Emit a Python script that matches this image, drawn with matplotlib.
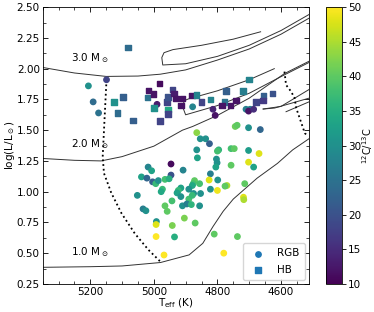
import numpy as np
import matplotlib
matplotlib.use("Agg")
import matplotlib.pyplot as plt
from matplotlib.ticker import MultipleLocator

# RGB stars: Teff, log L, 12C/13C
rgb_teff = [5206, 5191, 5174, 5149, 4990, 4878, 4814, 4807, 4710, 4697, 4702, 4686,
            4744, 4738, 4702, 4665, 4865, 4854, 4837, 4825, 4865, 4757, 4747, 4702,
            4669, 4863, 4796, 4800, 4803, 4801, 4805, 4757, 4946, 4946, 4908, 5018,
            5007, 5039, 5022, 5004, 4994, 4986, 4965, 4952, 4822, 4826, 4799, 4800,
            4822, 4770, 4776, 4872, 4876, 4856, 4879, 4890, 4915, 4923, 4927, 4915,
            4875, 4853, 4890, 4879, 4973, 4977, 5052, 4943, 4965, 5034, 5025, 4992,
            4993, 4993, 4935, 4968, 4904, 4958, 4942, 4910, 4896, 4882, 4856, 4870,
            4810, 4780, 4702, 4686, 4714, 4718, 4717, 4737]
rgb_logl = [1.86, 1.73, 1.64, 1.91, 1.71, 1.69, 1.67, 1.62, 1.67, 1.67, 1.655, 1.67,
            1.53, 1.54, 1.52, 1.505, 1.48, 1.43, 1.43, 1.39, 1.34, 1.35, 1.35, 1.335,
            1.31, 1.275, 1.34, 1.33, 1.265, 1.235, 1.20, 1.215, 1.225, 1.135, 1.175, 1.20,
            1.17, 1.12, 1.11, 1.08, 1.065, 1.09, 1.10, 1.105, 1.145, 1.095, 1.095, 1.01,
            1.02, 1.05, 1.045, 1.09, 1.065, 1.065, 1.05, 1.02, 1.03, 1.01, 0.99, 0.96,
            0.985, 0.985, 0.94, 0.97, 1.02, 1.00, 0.97, 0.925, 0.885, 0.86, 0.845, 0.757,
            0.733, 0.635, 0.632, 0.485, 0.785, 0.84, 0.725, 0.885, 0.90, 0.895, 0.885, 0.745,
            0.655, 0.50, 1.24, 1.20, 1.065, 0.955, 0.935, 0.635]
rgb_ratio = [30, 24, 25, 18, 13, 28, 14, 12, 27, 27, 12, 15,
             41, 40, 30, 23, 43, 30, 30, 22, 30, 38, 40, 32,
             48, 33, 36, 38, 30, 30, 33, 40, 11, 20, 28, 28,
             33, 33, 23, 22, 37, 30, 38, 35, 27, 48, 30, 49,
             30, 45, 40, 40, 38, 38, 34, 30, 33, 37, 33, 30,
             30, 30, 38, 37, 37, 34, 30, 38, 40, 27, 30, 30,
             48, 50, 35, 50, 42, 40, 42, 30, 27, 36, 30, 40,
             40, 50, 48, 33, 40, 48, 45, 40]

# HB stars
hb_teff = [5081, 5125, 5097, 5114, 5066, 5020, 4999, 4983, 5017, 5001, 4955, 4959,
           4955, 4981, 4956, 4942, 4937, 4930, 4910, 4915, 4880, 4865, 4850, 4821,
           4778, 4773, 4785, 4758, 4742, 4720, 4700, 4678, 4654, 4656, 4626]
hb_logl = [2.17, 1.73, 1.77, 1.64, 1.58, 1.765, 1.68, 1.88, 1.825, 1.795, 1.67, 1.73,
           1.77, 1.575, 1.63, 1.83, 1.80, 1.755, 1.757, 1.70, 1.78, 1.787, 1.73, 1.75,
           1.73, 1.82, 1.70, 1.70, 1.74, 1.82, 1.91, 1.73, 1.78, 1.74, 1.80]
hb_ratio = [24, 30, 22, 24, 22, 25, 30, 11, 12, 12, 34, 18,
            20, 18, 18, 18, 13, 12, 12, 12, 12, 28, 18, 28,
            25, 22, 12, 12, 12, 27, 28, 18, 22, 17, 20]

# evolutionary tracks
m1_teff = [5350, 5200, 5100, 4979, 4889, 4846, 4814, 4782, 4750, 4675, 4611, 4563, 4512]
m1_logl = [0.385, 0.39, 0.396, 0.424, 0.486, 0.58, 0.716, 0.84, 0.94, 1.11, 1.23, 1.34, 1.43]
m1_hb = [([4656, 4600, 4512], [1.672, 1.693, 1.83]),
         ([4656, 4620, 4512], [1.672, 1.68, 1.76]),
         ([4584, 4512], [1.65, 1.73])]

m2_teff = [5350, 5250, 5166, 5100, 5000, 4910, 4878, 4800, 4700, 4589, 4512]
m2_logl = [1.27, 1.255, 1.25, 1.285, 1.37, 1.50, 1.53, 1.62, 1.76, 1.96, 2.06]
m2_loop_teff = [4621, 4700, 4800, 4890, 4905, 4908, 4900, 4800, 4700, 4589, 4512]
m2_loop_logl = [2.00, 1.91, 1.82, 1.755, 1.74, 1.68, 1.625, 1.70, 1.80, 1.95, 2.05]

m3_teff = [5350, 5250, 5150, 5050, 4980, 4900, 4800, 4700, 4600, 4512]
m3_logl = [2.01, 1.965, 1.937, 1.94, 1.955, 1.99, 2.07, 2.16, 2.28, 2.41]
m3_loop_teff = [4664, 4750, 4850, 4940, 4968, 4975, 4972, 4900, 4800, 4700, 4600, 4512]
m3_loop_logl = [2.30, 2.24, 2.19, 2.155, 2.13, 2.09, 2.03, 2.04, 2.10, 2.19, 2.31, 2.44]

dot1_teff = [5149, 5155, 5161, 5157, 5134, 5102, 5060, 5017, 4979]
dot1_logl = [1.91, 1.60, 1.285, 1.15, 0.99, 0.825, 0.66, 0.527, 0.43]
dot2_teff = [4589, 4584, 4568, 4557, 4552, 4541, 4525, 4515]
dot2_logl = [1.976, 1.868, 1.814, 1.76, 1.68, 1.597, 1.476, 1.45]

fig = plt.figure(figsize=(3.74, 3.12), dpi=100)
ax = fig.add_axes([0.114, 0.09, 0.712, 0.887])
cax = fig.add_axes([0.871, 0.09, 0.043, 0.887])

lc = '#333333'
ax.plot(m1_teff, m1_logl, color=lc, lw=0.7)
for t, l in m1_hb:
    ax.plot(t, l, color=lc, lw=0.7)
ax.plot(m2_teff, m2_logl, color=lc, lw=0.7)
ax.plot(m2_loop_teff, m2_loop_logl, color=lc, lw=0.7)
ax.plot(m3_teff, m3_logl, color=lc, lw=0.7)
ax.plot(m3_loop_teff, m3_loop_logl, color=lc, lw=0.7)
ax.plot(dot1_teff, dot1_logl, color='k', lw=1.3, ls=(0, (1, 1.6)))
ax.plot(dot2_teff, dot2_logl, color='k', lw=1.3, ls=(0, (1, 1.6)))

sc = ax.scatter(rgb_teff, rgb_logl, c=rgb_ratio, cmap='viridis', vmin=10, vmax=50,
                marker='o', s=15, zorder=3)
ax.scatter(hb_teff, hb_logl, c=hb_ratio, cmap='viridis', vmin=10, vmax=50,
           marker='s', s=15, zorder=3)

fs = 7.5
ax.text(5262, 2.085, r'3.0 M$_\odot$', fontsize=fs, va='center')
ax.text(5262, 1.39, r'2.0 M$_\odot$', fontsize=fs, va='center')
ax.text(5262, 0.51, r'1.0 M$_\odot$', fontsize=fs, va='center')

ax.scatter([], [], marker='o', color='C0', s=15, label='RGB')
ax.scatter([], [], marker='s', color='C0', s=15, label='HB')
ax.legend(loc='lower right', fontsize=fs, handletextpad=0.9, borderpad=0.55,
          labelspacing=0.6, handlelength=1.8, borderaxespad=0.35)

ax.set_xlim(5350, 4512)
ax.set_ylim(0.25, 2.5)
ax.xaxis.set_major_locator(MultipleLocator(200))
ax.xaxis.set_minor_locator(MultipleLocator(50))
ax.yaxis.set_major_locator(MultipleLocator(0.25))
ax.yaxis.set_minor_locator(MultipleLocator(0.125))
ax.tick_params(which='both', direction='in', top=True, right=True, labelsize=fs, pad=2)
ax.tick_params(which='major', length=3.5, width=0.6)
ax.tick_params(which='minor', length=2, width=0.5)
for s in ax.spines.values():
    s.set_linewidth(0.6)
ax.set_xlabel(r'T$_{\rm eff}$ (K)', fontsize=fs, labelpad=0)
ax.set_ylabel(r'log(L/L$_\odot$)', fontsize=fs, labelpad=0)

cb = fig.colorbar(sc, cax=cax)
cb.set_ticks([10, 15, 20, 25, 30, 35, 40, 45, 50])
cb.ax.tick_params(labelsize=fs, width=0.6, length=3, pad=1.5)
cb.outline.set_linewidth(0.6)
cb.set_label(r'$^{12}$C/$^{13}$C', fontsize=7, labelpad=-1)

fig.savefig('out.png', dpi=100)
